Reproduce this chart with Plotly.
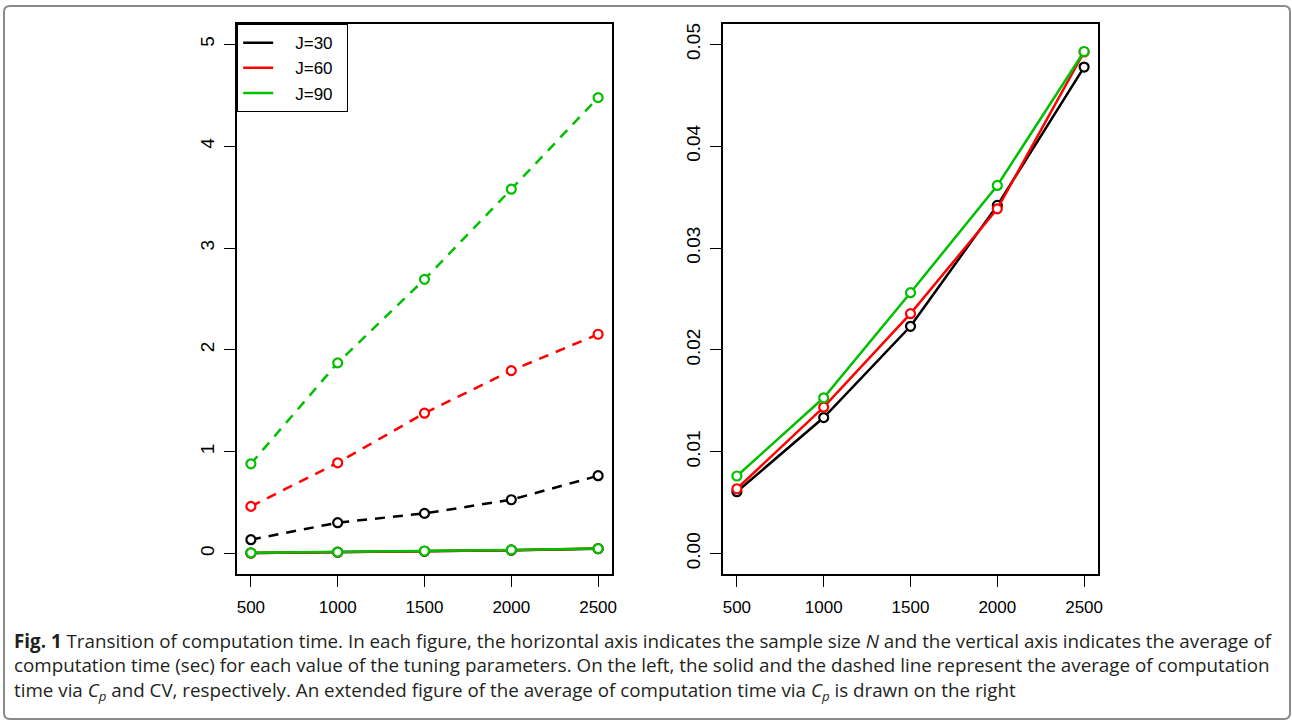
import plotly.graph_objects as go

W, H = 1292, 723

N = [500, 1000, 1500, 2000, 2500]
series_names = ["J=30", "J=60", "J=90"]
colors = ["#000000", "#ff0000", "#00c000"]

# CV (dashed, left panel)
cv_j30 = [0.137, 0.304, 0.395, 0.529, 0.765]
cv_j60 = [0.464, 0.892, 1.379, 1.797, 2.154]
cv_j90 = [0.882, 1.873, 2.693, 3.578, 4.477]

# Cp (solid, both panels)
cp_j30 = [0.00608, 0.01336, 0.02232, 0.03419, 0.04777]
cp_j60 = [0.00637, 0.01438, 0.02356, 0.03385, 0.04925]
cp_j90 = [0.00762, 0.01530, 0.02562, 0.03615, 0.04930]

left_yticks = [0, 1, 2, 3, 4, 5]
right_yticks = [0.00, 0.01, 0.02, 0.03, 0.04, 0.05]
xticks = [500, 1000, 1500, 2000, 2500]

caption_lines = [
    "<b>Fig. 1</b> Transition of computation time. In each figure, the horizontal axis indicates the sample size <i>N</i> and the vertical axis indicates the average of",
    "computation time (sec) for each value of the tuning parameters. On the left, the solid and the dashed line represent the average of computation",
    "time via <i>C</i><sub><i>p</i></sub> and CV, respectively. An extended figure of the average of computation time via <i>C</i><sub><i>p</i></sub> is drawn on the right",
]

cv = [cv_j30, cv_j60, cv_j90]
cp = [cp_j30, cp_j60, cp_j90]

def px(x):
    return x / W

def py(y):
    return 1 - y / H

fig = go.Figure()

marker_common = dict(symbol="circle", size=9, color="white")

for vals, col in zip(cp, colors):
    fig.add_trace(go.Scatter(x=N, y=vals, mode="lines+markers", xaxis="x", yaxis="y",
                             line=dict(color=col, width=2.5),
                             marker=dict(**marker_common, line=dict(color=col, width=2.2)),
                             showlegend=False))
for vals, col in zip(cv, colors):
    fig.add_trace(go.Scatter(x=N, y=vals, mode="lines+markers", xaxis="x", yaxis="y",
                             line=dict(color=col, width=2.5, dash="10px,8px"),
                             marker=dict(**marker_common, line=dict(color=col, width=2.2)),
                             showlegend=False))
for vals, col in zip(cp, colors):
    fig.add_trace(go.Scatter(x=N, y=vals, mode="lines+markers", xaxis="x2", yaxis="y2",
                             line=dict(color=col, width=2.5),
                             marker=dict(**marker_common, line=dict(color=col, width=2.2)),
                             showlegend=False))
for name, col in zip(series_names, colors):
    fig.add_trace(go.Scatter(x=[None], y=[None], mode="lines",
                             name="\u2002\u2002" + name + "\u2002",
                             xaxis="x", yaxis="y",
                             line=dict(color=col, width=2.5), showlegend=True))

xtickfont = dict(family="Liberation Sans, Arial, sans-serif", size=17, color="black")
ytickfont = dict(family="Liberation Sans, Arial, sans-serif", size=19, color="black")
axis_common = dict(showline=True, mirror=True, linecolor="black", linewidth=1.5,
                   ticks="outside", ticklen=11, tickwidth=1, tickcolor="black",
                   showgrid=False, zeroline=False, automargin=False)

left_dom = [px(237), px(612)]
right_dom = [px(723), px(1098)]
ydom = [py(574), py(24)]

fig.update_layout(
    width=W, height=H,
    margin=dict(l=0, r=0, t=0, b=0),
    paper_bgcolor="white", plot_bgcolor="white",
    xaxis=dict(domain=left_dom, range=[420, 2580], tickvals=xticks, anchor="y",
               ticklabelstandoff=6, tickfont=xtickfont, **axis_common),
    yaxis=dict(domain=ydom, range=[-0.2, 5.2], tickvals=left_yticks, anchor="x",
               tickangle=-90, ticklabelstandoff=3, tickfont=ytickfont, **axis_common),
    xaxis2=dict(domain=right_dom, range=[420, 2580], tickvals=xticks, anchor="y2",
                ticklabelstandoff=6, tickfont=xtickfont, **axis_common),
    yaxis2=dict(domain=ydom, range=[-0.002, 0.052], tickvals=right_yticks, tickformat=".2f",
                anchor="x2", tickangle=-90, ticklabelstandoff=3, tickfont=ytickfont,
                **axis_common),
    legend=dict(x=px(237), y=py(24), xanchor="left", yanchor="top",
                bgcolor="white", bordercolor="black", borderwidth=1.2,
                font=dict(family="Liberation Sans, Arial, sans-serif", size=17, color="black"),
                tracegroupgap=0),
    showlegend=True,
)

fig.add_annotation(text="<br>".join(caption_lines), xref="paper", yref="paper",
                   x=px(12), y=py(666), xanchor="left", yanchor="middle", align="left",
                   showarrow=False,
                   font=dict(family="Open Sans, sans-serif", size=18.8, color="#231f20"))

# rounded outer frame
x0, x1, y0, y1, r = px(4), px(1290), py(6), py(719), 6
rx, ry = r / W, r / H
path = (f"M{x0+rx},{y0} L{x1-rx},{y0} Q{x1},{y0} {x1},{y0-ry} "
        f"L{x1},{y1+ry} Q{x1},{y1} {x1-rx},{y1} L{x0+rx},{y1} Q{x0},{y1} {x0},{y1+ry} "
        f"L{x0},{y0-ry} Q{x0},{y0} {x0+rx},{y0} Z")
fig.add_shape(type="path", path=path, xref="paper", yref="paper",
              line=dict(color="#8a8a8a", width=2), layer="below")

fig.write_html("out.html", config={"displayModeBar": False},
               post_script="document.body.style.margin='0px';document.body.style.overflow='hidden';")
